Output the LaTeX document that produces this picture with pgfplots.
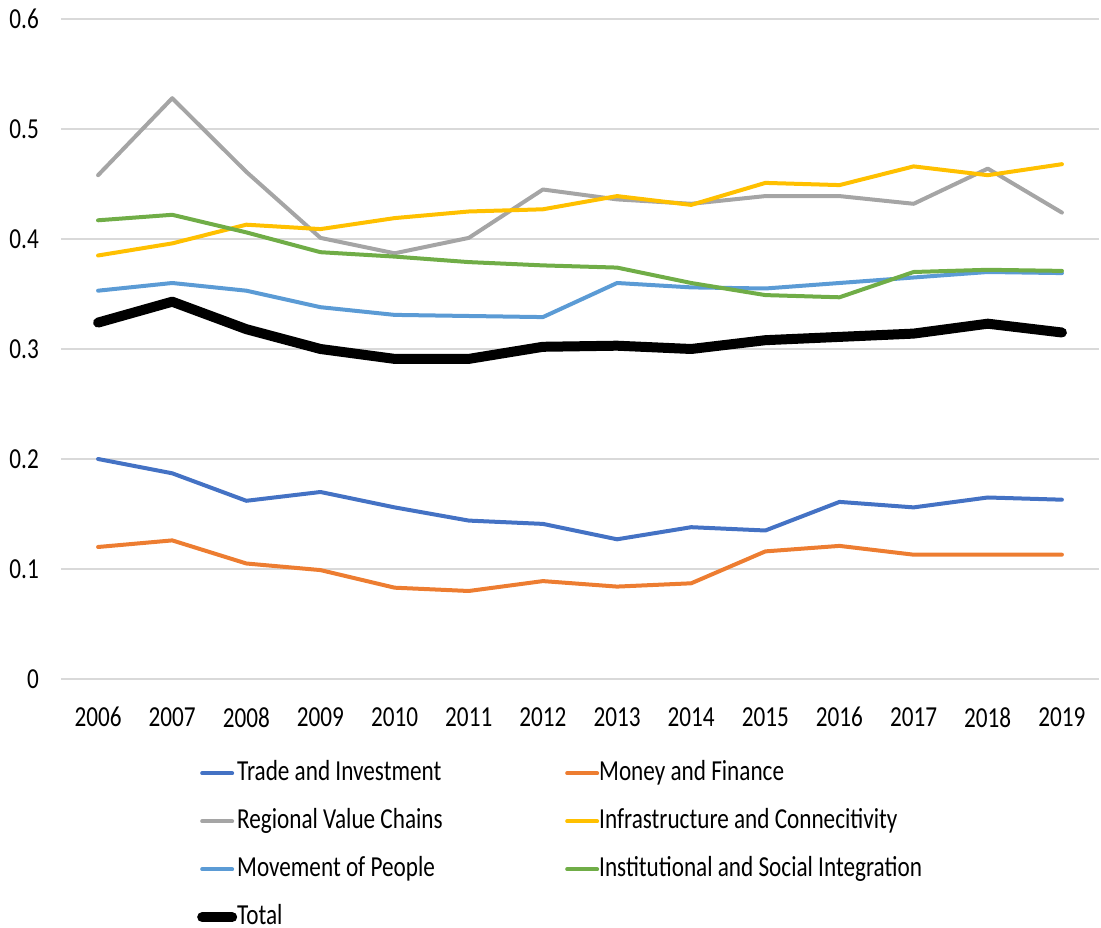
\documentclass[border=0pt]{standalone}
\usepackage{fontspec}
\setmainfont{Carlito}[FakeStretch=0.80]
\usepackage{pgfplots}
\pgfplotsset{compat=1.18}

\definecolor{cTrade}{HTML}{4472C4}
\definecolor{cMoney}{HTML}{ED7D31}
\definecolor{cValue}{HTML}{A5A5A5}
\definecolor{cInfra}{HTML}{FFC000}
\definecolor{cPeople}{HTML}{5B9BD5}
\definecolor{cInst}{HTML}{70AD47}
\definecolor{gridgray}{HTML}{D9D9D9}

\newcommand{\lbl}{\fontsize{29}{35}\selectfont}

\begin{document}
\begin{tikzpicture}
  \useasboundingbox (0,0) rectangle (1101pt,928pt);
  \begin{axis}[
    at={(61pt,249pt)}, anchor=south west,
    scale only axis,
    width=1038pt, height=660pt,
    xmin=2005.5, xmax=2019.5,
    ymin=0, ymax=0.6,
    xtick={2006,...,2019},
    ytick={0,0.1,0.2,0.3,0.4,0.5,0.6},
    yticklabels={0,0.1,0.2,0.3,0.4,0.5,0.6},
    xticklabel={\pgfmathprintnumber[1000 sep={},assume math mode=true]{\tick}},
    axis line style={draw=none},
    major tick length=0pt,
    ymajorgrids,
    grid style={color=gridgray, line width=1.5pt},
    tick label style={font=\lbl, inner sep=0pt},
    yticklabel style={xshift=-22pt},
    xticklabel style={yshift=-28pt},
    every axis plot/.append style={line width=4pt, line join=round, line cap=round},
    legend style={
      at={(0.131,-0.1258)}, anchor=north west,
      draw=none, fill=none, inner sep=0pt,
      font=\lbl,
      nodes={inner xsep=0pt, inner ysep=0pt, text height=18pt, text depth=4pt},
      row sep=26pt,
      legend cell align=left,
    },
    legend columns=2,
    legend image code/.code={\draw[#1] (0pt,0pt) -- (30pt,0pt);},
  ]
    \addplot[cTrade] coordinates {
      (2006,0.200) (2007,0.187) (2008,0.162) (2009,0.170) (2010,0.156)
      (2011,0.144) (2012,0.141) (2013,0.127) (2014,0.138) (2015,0.135)
      (2016,0.161) (2017,0.156) (2018,0.165) (2019,0.163)
    };
    \addlegendentry{\makebox[328pt][l]{Trade and Investment}}
    \addplot[cMoney] coordinates {
      (2006,0.120) (2007,0.126) (2008,0.105) (2009,0.099) (2010,0.083)
      (2011,0.080) (2012,0.089) (2013,0.084) (2014,0.087) (2015,0.116)
      (2016,0.121) (2017,0.113) (2018,0.113) (2019,0.113)
    };
    \addlegendentry{Money and Finance}
    \addplot[cValue] coordinates {
      (2006,0.458) (2007,0.528) (2008,0.461) (2009,0.401) (2010,0.387)
      (2011,0.401) (2012,0.445) (2013,0.436) (2014,0.432) (2015,0.439)
      (2016,0.439) (2017,0.432) (2018,0.464) (2019,0.424)
    };
    \addlegendentry{\makebox[328pt][l]{Regional Value Chains}}
    \addplot[cInfra] coordinates {
      (2006,0.385) (2007,0.396) (2008,0.413) (2009,0.409) (2010,0.419)
      (2011,0.425) (2012,0.427) (2013,0.439) (2014,0.431) (2015,0.451)
      (2016,0.449) (2017,0.466) (2018,0.458) (2019,0.468)
    };
    \addlegendentry{Infrastructure and Connecitivity}
    \addplot[cPeople] coordinates {
      (2006,0.353) (2007,0.360) (2008,0.353) (2009,0.338) (2010,0.331)
      (2011,0.330) (2012,0.329) (2013,0.360) (2014,0.356) (2015,0.355)
      (2016,0.360) (2017,0.365) (2018,0.370) (2019,0.369)
    };
    \addlegendentry{\makebox[328pt][l]{Movement of People}}
    \addplot[cInst] coordinates {
      (2006,0.417) (2007,0.422) (2008,0.406) (2009,0.388) (2010,0.384)
      (2011,0.379) (2012,0.376) (2013,0.374) (2014,0.360) (2015,0.349)
      (2016,0.347) (2017,0.370) (2018,0.372) (2019,0.371)
    };
    \addlegendentry{Institutional and Social Integration}
    \addplot[black, line width=10pt] coordinates {
      (2006,0.324) (2007,0.343) (2008,0.318) (2009,0.300) (2010,0.291)
      (2011,0.291) (2012,0.302) (2013,0.303) (2014,0.300) (2015,0.308)
      (2016,0.311) (2017,0.314) (2018,0.323) (2019,0.315)
    };
    \addlegendentry{Total}
  \end{axis}
\end{tikzpicture}
\end{document}
